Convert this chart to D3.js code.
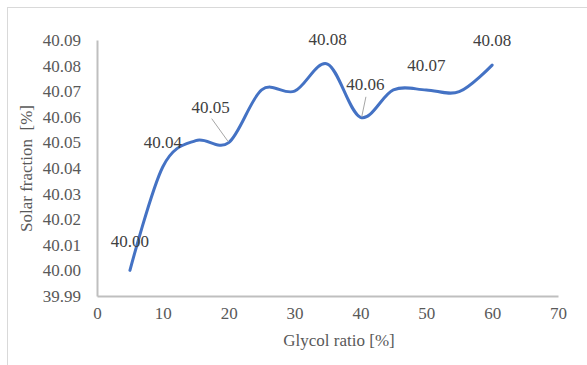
<!DOCTYPE html>
<html><head><meta charset="utf-8">
<script src="https://cdn.jsdelivr.net/npm/d3@7"></script>
<style>
html,body{margin:0;padding:0;background:#fff;}
</style></head>
<body><svg id="c" width="587" height="365"></svg>
<script>
const glycolRatio = [5, 10, 15, 20, 25, 30, 35, 40, 45, 50, 55, 60];
const solarFraction = [40.000, 40.0405, 40.0507, 40.0499, 40.0705, 40.0700, 40.0806, 40.0598, 40.0705, 40.0705, 40.0698, 40.0802];
const labeledIndex = [0, 1, 3, 6, 7, 9, 11];
const xTicks = [0, 10, 20, 30, 40, 50, 60, 70];
const yTicks = [39.99, 40.00, 40.01, 40.02, 40.03, 40.04, 40.05, 40.06, 40.07, 40.08, 40.09];
const xTitle = "Glycol ratio [%]";
const yTitle = "Solar fraction  [%]";

const FONT = "'Liberation Serif'";
const svg = d3.select("#c");
const x = d3.scaleLinear().domain([0, 70]).range([97, 558]);
const y = d3.scaleLinear().domain([39.99, 40.09]).range([296, 40]);

// outer frame
svg.append("rect").attr("x", 7.5).attr("y", 7.5).attr("width", 600).attr("height", 400)
  .attr("fill", "none").attr("stroke", "#d9d9d9").attr("stroke-width", 1);

const tickColor = "#595959";
// y axis
const ya = svg.append("g").attr("transform", "translate(97,0)")
  .call(d3.axisLeft(y).tickValues(yTicks).tickSize(0).tickPadding(16).tickFormat(d3.format(".2f")));
ya.select(".domain").attr("stroke", "#bfbfbf").attr("stroke-width", 2);
ya.selectAll("text").style("font-family", FONT).style("font-size", "17px").attr("fill", tickColor);

// x axis
const xa = svg.append("g").attr("transform", "translate(0,296)")
  .call(d3.axisBottom(x).tickValues(xTicks).tickSize(0).tickPadding(11).tickFormat(d3.format("d")));
xa.select(".domain").attr("stroke", "#bfbfbf").attr("stroke-width", 2);
xa.selectAll("text").style("font-family", FONT).style("font-size", "17px").attr("fill", tickColor);

// titles
svg.append("text").attr("x", 339).attr("y", 346).attr("text-anchor", "middle")
  .style("font-family", FONT).style("font-size", "17px").attr("fill", tickColor).text(xTitle);
svg.append("text").attr("transform", "translate(32,168.5) rotate(-90)").attr("text-anchor", "middle")
  .style("font-family", FONT).style("font-size", "17px").attr("fill", tickColor)
  .style("white-space", "pre").text(yTitle);

// line
const pts = glycolRatio.map((g, i) => [g, solarFraction[i]]);
const line = d3.line().x(d => x(d[0])).y(d => y(d[1])).curve(d3.curveCardinal.tension(0));
svg.append("path").datum(pts).attr("d", line).attr("fill", "none")
  .attr("stroke", "#4472c4").attr("stroke-width", 3).attr("stroke-linecap", "round");

// data labels
const offsets = {0: [0, -29], 3: [-18, -36], 7: [5, -33]};
const leaders = {3: [[-17, -24], [-0.5, -1]], 7: [[5.5, -20.5], [1.3, -0.5]]};
labeledIndex.forEach(i => {
  const px = x(glycolRatio[i]), py = y(solarFraction[i]);
  const o = offsets[i] || [0, -25];
  if (leaders[i]) {
    const l = leaders[i];
    svg.append("line").attr("x1", px + l[0][0]).attr("y1", py + l[0][1])
      .attr("x2", px + l[1][0]).attr("y2", py + l[1][1])
      .attr("stroke", "#a6a6a6").attr("stroke-width", 1);
  }
  svg.append("text").attr("x", px + o[0]).attr("y", py + o[1] + 6)
    .attr("text-anchor", "middle").style("font-family", FONT).style("font-size", "17px").attr("fill", "#404040")
    .text(d3.format(".2f")(solarFraction[i]));
});
</script></body></html>
